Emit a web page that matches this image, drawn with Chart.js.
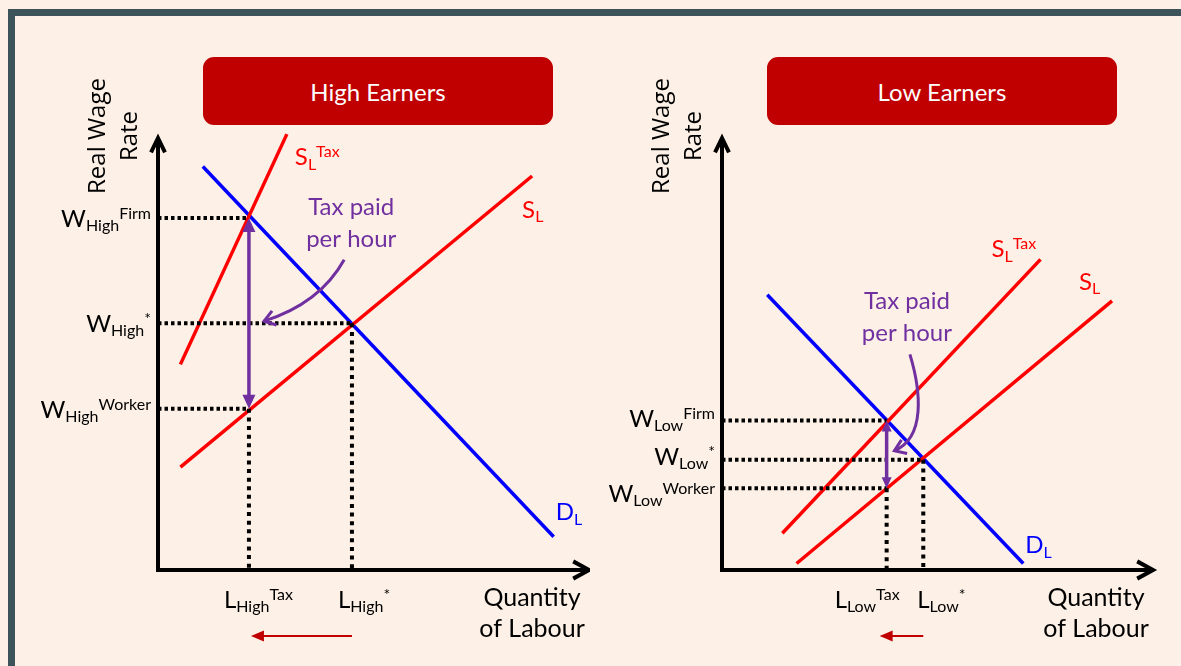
<!DOCTYPE html>
<html>
<head>
<meta charset="utf-8">
<title>Income tax incidence - high and low earners</title>
<script src="https://cdn.jsdelivr.net/npm/chart.js@4.4.1/dist/chart.umd.min.js"></script>
<style>
  html, body { margin: 0; padding: 0; }
  body { width: 1181px; height: 666px; background: #fdf0e6; position: relative; overflow: hidden; font-family: Lato, sans-serif; }
  .frame { position: absolute; left: 8px; top: 9px; width: 1400px; height: 900px; border-top: 7px solid #3b5359; border-left: 7px solid #3b5359; }
  .title { position: absolute; top: 57px; width: 350px; height: 68px; background: #c00000; border-radius: 11px; color: #fff; font-size: 24px; display: flex; align-items: center; justify-content: center; }
  canvas { position: absolute; top: 0; }
</style>
</head>
<body>
<div class="frame"></div>
<div class="title" id="title-high" style="left:203px"></div>
<div class="title" id="title-low" style="left:767px"></div>
<canvas id="chart-high" width="590" height="666" style="left:0"></canvas>
<canvas id="chart-low" width="591" height="666" style="left:590px"></canvas>
<script>
// Labour market diagrams: income tax on high vs low earners
// Both panels use 0..100 units on each axis (origin = where the axes meet)

// ============================================================================
// Data
// ============================================================================

// High earners (inelastic labour supply once taxed)
const HIGH_DEMAND = [{ x: 10.4, y: 93.4 }, { x: 91.8, y: 7.7 }];
const HIGH_SUPPLY = [{ x: 5.2, y: 23.8 }, { x: 86.8, y: 91.2 }];
const HIGH_SUPPLY_TAX = [{ x: 5.2, y: 47.6 }, { x: 29.9, y: 100.9 }];
const HIGH_WAGES = [81.5, 57.1, 37.3];   // firm, equilibrium, worker
const HIGH_LABOUR = [21.1, 45.0];        // with tax, equilibrium
const HIGH_TAX_CURVE = [{ x: 43.2, y: 71.8 }, { x: 39.4, y: 65.0 }, { x: 33.2, y: 60.3 }, { x: 24.6, y: 57.6 }];

// Low earners
const LOW_DEMAND = [{ x: 10.5, y: 63.7 }, { x: 69.9, y: 1.5 }];
const LOW_SUPPLY = [{ x: 17.3, y: 1.5 }, { x: 90.5, y: 62.3 }];
const LOW_SUPPLY_TAX = [{ x: 14.0, y: 8.5 }, { x: 73.9, y: 71.9 }];
const LOW_WAGES = [34.6, 25.5, 18.9];
const LOW_LABOUR = [38.2, 46.7];
const LOW_TAX_CURVE = [{ x: 43.6, y: 49.9 }, { x: 46.2, y: 41.3 }, { x: 47.2, y: 30.6 }, { x: 40.0, y: 27.6 }];

// Text
const TITLES = ['High Earners', 'Low Earners'];
const Y_TITLE = ['Real Wage', 'Rate'];
const X_TITLE = ['Quantity', 'of Labour'];
const TAX_NOTE = ['Tax paid', 'per hour'];
const WAGE_TAGS = ['Firm', '*', 'Worker'];
const LABOUR_TAGS = ['Tax', '*'];

const COLORS = {
  demand: '#0000ff',
  supply: '#ff0000',
  tax: '#7030a0',
  shift: '#c00000',
  ink: '#000000'
};

// ============================================================================
// Drawing helpers
// ============================================================================

function scripted(main, sub, sup) {
  return [[main, 24, 0], [sub, 16, 4], [sup, 16, -8]];
}

function richText(ctx, x, y, parts, align, color) {
  ctx.fillStyle = color;
  ctx.textAlign = 'left';
  ctx.textBaseline = 'alphabetic';
  let total = 0;
  const widths = parts.map(([t, size]) => {
    ctx.font = `${size}px Lato`;
    const w = ctx.measureText(t).width;
    total += w;
    return w;
  });
  let cx = align === 'right' ? x - total : align === 'center' ? x - total / 2 : x;
  parts.forEach(([t, size, dy], i) => {
    ctx.font = `${size}px Lato`;
    ctx.fillText(t, cx, y + dy);
    cx += widths[i];
  });
}

function filledHead(ctx, x, y, angle, len, half, color) {
  ctx.save();
  ctx.translate(x, y);
  ctx.rotate(angle);
  ctx.fillStyle = color;
  ctx.beginPath();
  ctx.moveTo(0, 0);
  ctx.lineTo(-len, -half);
  ctx.lineTo(-len, half);
  ctx.closePath();
  ctx.fill();
  ctx.restore();
}

function openHead(ctx, x, y, angle, len, spread, width, color) {
  ctx.save();
  ctx.translate(x, y);
  ctx.rotate(angle);
  ctx.strokeStyle = color;
  ctx.lineWidth = width;
  ctx.lineJoin = 'miter';
  ctx.beginPath();
  ctx.moveTo(-len * Math.cos(spread), -len * Math.sin(spread));
  ctx.lineTo(0, 0);
  ctx.lineTo(-len * Math.cos(spread), len * Math.sin(spread));
  ctx.stroke();
  ctx.restore();
}

// ============================================================================
// Plugin: axes, arrows and labels
// ============================================================================

const diagramPlugin = {
  id: 'diagram',
  afterDatasetsDraw(chart, args, o) {
    const ctx = chart.ctx;
    const px = (v) => chart.scales.x.getPixelForValue(v);
    const py = (v) => chart.scales.y.getPixelForValue(v);
    const x0 = px(0), y0 = py(0), xEnd = px(100), yEnd = py(100);
    const [wFirm, wEq, wWorker] = o.wages;
    const [lTax, lEq] = o.labour;

    ctx.save();

    // Axes with open arrow heads
    ctx.strokeStyle = COLORS.ink;
    ctx.lineWidth = 4;
    ctx.lineJoin = 'miter';
    ctx.beginPath();
    ctx.moveTo(x0, yEnd + 2);
    ctx.lineTo(x0, y0);
    ctx.lineTo(xEnd - 2, y0);
    ctx.stroke();
    openHead(ctx, x0, yEnd, -Math.PI / 2, 16, 0.45, 4, COLORS.ink);
    openHead(ctx, xEnd, y0, 0, 18, 0.5, 4, COLORS.ink);

    // Tax wedge: double-headed arrow between worker and firm wage
    const ax = px(lTax), aTop = py(wFirm), aBot = py(wWorker);
    ctx.strokeStyle = COLORS.tax;
    ctx.lineWidth = 3.5;
    ctx.beginPath();
    ctx.moveTo(ax, aTop + 10);
    ctx.lineTo(ax, aBot - 10);
    ctx.stroke();
    filledHead(ctx, ax, aTop, -Math.PI / 2, o.headLen, o.headHalf, COLORS.tax);
    filledHead(ctx, ax, aBot, Math.PI / 2, o.headLen, o.headHalf, COLORS.tax);

    // Curved pointer from the note to the wedge
    const c = o.curve.map((p) => ({ x: px(p.x), y: py(p.y) }));
    ctx.lineWidth = 3;
    ctx.beginPath();
    ctx.moveTo(c[0].x, c[0].y);
    ctx.bezierCurveTo(c[1].x, c[1].y, c[2].x, c[2].y, c[3].x, c[3].y);
    ctx.stroke();
    openHead(ctx, c[3].x, c[3].y, Math.atan2(c[3].y - c[2].y, c[3].x - c[2].x), 13, 0.6, 3, COLORS.tax);
    TAX_NOTE.forEach((line, i) => {
      richText(ctx, c[0].x + o.noteDx, c[0].y - 45 + i * 32, [[line, 24, 0]], 'center', COLORS.tax);
    });

    // Fall in employment arrow under the x-axis
    const sy = y0 + 66;
    ctx.strokeStyle = COLORS.shift;
    ctx.lineWidth = 2;
    ctx.beginPath();
    ctx.moveTo(px(lEq), sy);
    ctx.lineTo(px(lTax) + o.shiftDx + 10, sy);
    ctx.stroke();
    filledHead(ctx, px(lTax) + o.shiftDx, sy, Math.PI, 13, 5.5, COLORS.shift);

    // Wage labels
    [wFirm, wEq, wWorker].forEach((w, i) => {
      richText(ctx, x0 - 7, py(w) + o.wageDy[i], scripted('W', o.group, WAGE_TAGS[i]), 'right', COLORS.ink);
    });

    // Labour labels
    [lTax, lEq].forEach((l, i) => {
      richText(ctx, px(l) + o.labourDx[i], y0 + 38, scripted('L', o.group, LABOUR_TAGS[i]), 'left', COLORS.ink);
    });

    // Axis titles
    X_TITLE.forEach((line, i) => {
      richText(ctx, xEnd - 57, y0 + 36 + i * 31, [[line, 25, 0]], 'center', COLORS.ink);
    });
    ctx.save();
    ctx.translate(x0, yEnd - 2);
    ctx.rotate(-Math.PI / 2);
    ctx.font = '24px "Open Sans"';
    ctx.fillStyle = COLORS.ink;
    ctx.textAlign = 'center';
    ctx.textBaseline = 'alphabetic';
    ctx.fillText(Y_TITLE[0], 0, -53);
    ctx.fillText(Y_TITLE[1], 0, -21);
    ctx.restore();

    // Curve labels
    const st = o.supplyTax[1], s = o.supply[1], d = o.demand[1];
    richText(ctx, px(st.x) + o.supplyTaxLbl[0], py(st.y) + o.supplyTaxLbl[1], [['S', 24, 0], ['L', 16, 5], ['Tax', 16, -8]], 'left', COLORS.supply);
    richText(ctx, px(s.x) + o.supplyLbl[0], py(s.y) + o.supplyLbl[1], [['S', 24, 0], ['L', 16, 4]], 'left', COLORS.supply);
    richText(ctx, px(d.x) + o.demandLbl[0], py(d.y) + o.demandLbl[1], [['D', 24, 0], ['L', 16, 5]], 'left', COLORS.demand);

    ctx.restore();
  }
};

// ============================================================================
// Chart builder
// ============================================================================

function lineSet(data, color, width, dash, order) {
  return {
    data: data,
    showLine: true,
    borderColor: color,
    borderWidth: width,
    borderDash: dash,
    borderCapStyle: 'butt',
    pointRadius: 0,
    fill: false,
    clip: false,
    tension: 0,
    order: order
  };
}

function buildChart(canvasId, d, look) {
  const [wFirm, wEq, wWorker] = d.wages;
  const [lTax, lEq] = d.labour;
  const hDots = [3.5, 3];
  const vDots = [4, 4.6];

  return new Chart(document.getElementById(canvasId), {
    type: 'scatter',
    data: {
      datasets: [
        // guide lines to the axes
        lineSet([{ x: 0, y: wFirm }, { x: lTax, y: wFirm }], COLORS.ink, 4, hDots, 0),
        lineSet([{ x: 0, y: wEq }, { x: lEq, y: wEq }], COLORS.ink, 4, hDots, 0),
        lineSet([{ x: 0, y: wWorker }, { x: lTax, y: wWorker }], COLORS.ink, 4, hDots, 0),
        lineSet([{ x: lEq, y: wEq }, { x: lEq, y: 0 }], COLORS.ink, 4, vDots, 0),
        lineSet([{ x: lTax, y: wWorker }, { x: lTax, y: 0 }], COLORS.ink, 4, vDots, 0),
        // supply and demand
        lineSet(d.supplyTax, COLORS.supply, 3.5, [], 1),
        lineSet(d.supply, COLORS.supply, 3.5, [], 1),
        lineSet(d.demand, COLORS.demand, 3.5, [], 1)
      ]
    },
    options: {
      responsive: false,
      animation: false,
      events: [],
      layout: { padding: { left: look.padLeft, right: look.padRight, top: 138, bottom: 96 } },
      scales: {
        x: { type: 'linear', min: 0, max: 100, display: false },
        y: { type: 'linear', min: 0, max: 100, display: false }
      },
      plugins: {
        legend: { display: false },
        tooltip: { enabled: false },
        diagram: Object.assign({}, d, look)
      }
    },
    plugins: [diagramPlugin]
  });
}

// ============================================================================
// Initialization
// ============================================================================

document.getElementById('title-high').textContent = TITLES[0];
document.getElementById('title-low').textContent = TITLES[1];

buildChart('chart-high', {
  demand: HIGH_DEMAND, supply: HIGH_SUPPLY, supplyTax: HIGH_SUPPLY_TAX,
  wages: HIGH_WAGES, labour: HIGH_LABOUR, curve: HIGH_TAX_CURVE
}, {
  group: 'High', padLeft: 158, padRight: 1,
  wageDy: [9, 9, 9], labourDx: [-25, -14], noteDx: 7, shiftDx: 2,
  headLen: 14, headHalf: 6.5,
  supplyTaxLbl: [8, 31], supplyLbl: [-10, 42], demandLbl: [2, -17]
});

buildChart('chart-low', {
  demand: LOW_DEMAND, supply: LOW_SUPPLY, supplyTax: LOW_SUPPLY_TAX,
  wages: LOW_WAGES, labour: LOW_LABOUR, curve: LOW_TAX_CURVE
}, {
  group: 'Low', padLeft: 132, padRight: 28,
  wageDy: [6, 5, 14], labourDx: [-52, -6], noteDx: -3, shiftDx: -7,
  headLen: 11, headHalf: 5,
  supplyTaxLbl: [-49, -2], supplyLbl: [-33, -11], demandLbl: [2, -11]
});
</script>
</body>
</html>
